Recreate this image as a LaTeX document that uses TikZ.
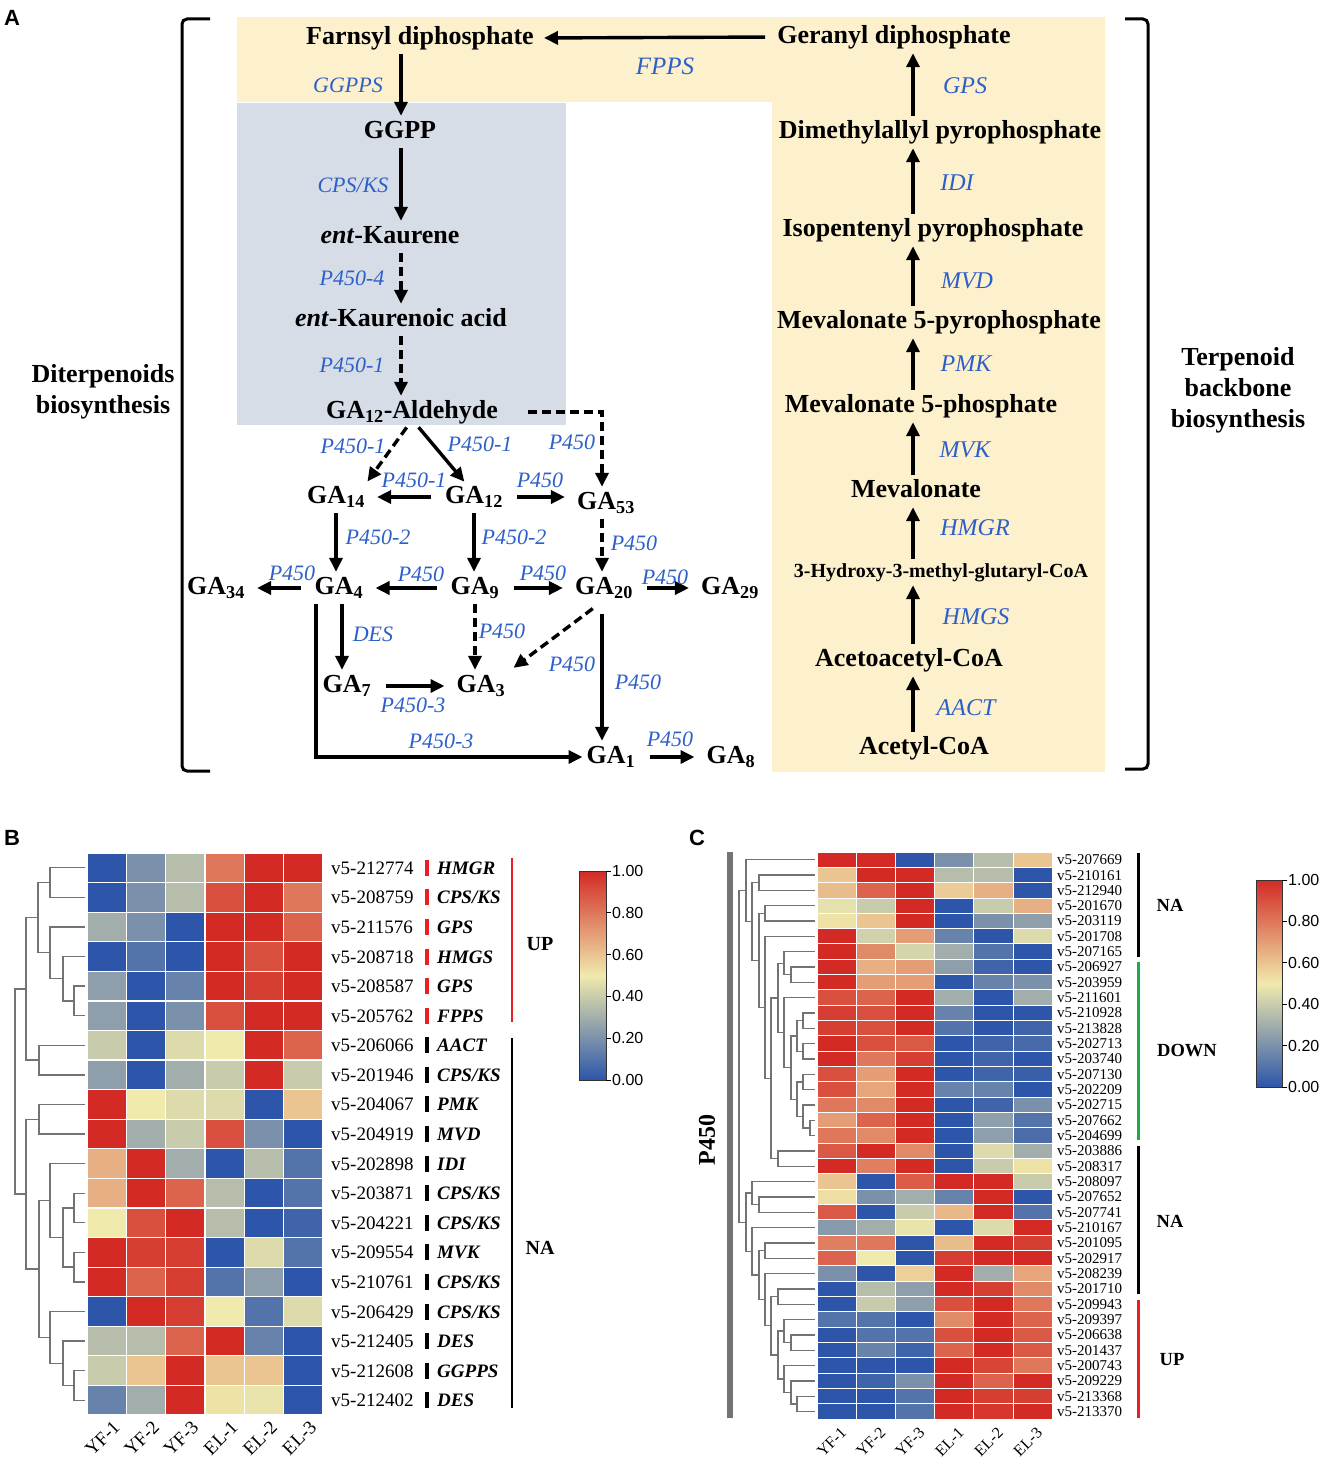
\documentclass[tikz,border=0pt]{standalone}
\usepackage{fontspec}
\setmainfont{Liberation Serif}
\newfontfamily\arialfont{Liberation Sans}
\usetikzlibrary{arrows.meta,positioning,calc}

\definecolor{enzblue}{RGB}{45,95,200}
\definecolor{bandyel}{RGB}{253,241,205}
\definecolor{bandgray}{RGB}{214,221,231}
\definecolor{hmlow}{RGB}{45,85,170}
\definecolor{hmmid}{RGB}{240,234,172}
\definecolor{hmhigh}{RGB}{211,42,38}
\definecolor{upred}{RGB}{235,30,35}
\definecolor{downgreen}{RGB}{30,170,70}

\newcommand\fs[1]{\fontsize{#1}{#1}\selectfont}
% dendrogram joint: name, child a, child b, x of the joint
\newcommand\merge[4]{%
  \path let \p1=($(#2)!0.5!(#3)$), \p2=(#4,0) in coordinate (#1) at (\x2,\y1);
  \draw[dend] (#2) -| (#1) |- (#3);
}
% heat colour hmc from a value 0..10
\newcommand\heat[1]{%
  \pgfmathsetmacro\hmlo{min(#1,5)*20}%
  \pgfmathsetmacro\hmhi{max(#1-5,0)*20}%
  \colorlet{hma}{hmmid!\hmlo!hmlow}%
  \colorlet{hmc}{hmhigh!\hmhi!hma}%
}

\begin{document}
\begin{tikzpicture}[x=1pt, y=-1pt,
    met/.style={font=\fs{26}\bfseries, inner sep=0pt, text height=18.5pt, text depth=5.5pt},
    smet/.style={met, font=\fs{20}\bfseries, text height=14pt, text depth=4pt},
    enz/.style={font=\fs{22}\itshape, text=enzblue, inner sep=0pt},
    renz/.style={enz, font=\fs{24}\itshape},
    arr/.style={-{Triangle[length=14pt,width=13pt]}, line width=3.4pt, shorten <=4pt, shorten >=4pt},
    darr/.style={arr, dash pattern=on 9pt off 5pt},
    hor/.style={shorten <=14pt, shorten >=12pt},
    brk/.style={line width=3pt, rounded corners=5pt},
    ttl/.style={font=\fontsize{26}{31}\selectfont\bfseries, align=center},
    lab/.style={font=\arialfont\bfseries\fs{22}},
    dend/.style={draw=black!55, line width=1.3pt},
    cell/.style={draw=white, line width=1.2pt},
    cbar/.style={font=\arialfont\fs{16}, anchor=west, inner sep=1pt},
    grp/.style={font=\fs{20}\bfseries},
    axl/.style={rotate=45, anchor=east, inner sep=0pt}
]
\useasboundingbox (0,0) rectangle (1325,1464);

% ---------- A: pathway ----------
\fill[bandyel] (237,17) rectangle (1105,102);
\fill[bandyel] (772,17) rectangle (1105,772);
\fill[bandgray] (237,103) rectangle (566,425);

\node[lab] (pA) at (12,18) {A};
\draw[brk] (210,19) -- (182,19) -- (182,771) -- (210,771);
\draw[brk] (1125,19) -- (1148,19) -- (1148,769) -- (1125,769);
\node[ttl] (dit) at (103,392) {Diterpenoids\\biosynthesis};
\node[ttl] (tbb) at (1238,390) {Terpenoid\\backbone\\biosynthesis};

\coordinate (lc) at (401,0);
\coordinate (rc) at (913,0);
\coordinate (gc) at (602,0);

% left chain
\node[met] (fpp) at (420,38) {Farnsyl diphosphate};
\node[met] (ggpp) at (400,132) {GGPP};
\node[met] (kau) at (390,237) {\textit{ent}-Kaurene};
\node[met] (kaa) at (401,320) {\textit{ent}-Kaurenoic acid};
\node[met] (ald) at (412,412) {GA\textsubscript{12}-Aldehyde};
\draw[arr] (fpp.south -| lc) -- (ggpp.north -| lc);
\draw[arr] (ggpp.south -| lc) -- (kau.north -| lc);
\draw[darr] (kau.south -| lc) -- (kaa.north -| lc);
\draw[darr] (kaa.south -| lc) -- (ald.north -| lc);
\node[enz] (e1) at (348,85) {GGPPS};
\node[enz] (e2) at (353,185) {CPS/KS};
\node[enz] (e3) at (352,278) {P450-4};
\node[enz] (e4) at (352,365) {P450-1};

% right chain
\node[met] (gpp) at (894,37) {Geranyl diphosphate};
\node[met] (dma) at (940,132) {Dimethylallyl pyrophosphate};
\node[met] (ipp) at (933,230) {Isopentenyl pyrophosphate};
\node[met] (mpp) at (939,322) {Mevalonate 5-pyrophosphate};
\node[met] (mvp) at (921,406) {Mevalonate 5-phosphate};
\node[met] (mva) at (916,491) {Mevalonate};
\node[smet] (hmg) at (941,572) {3-Hydroxy-3-methyl-glutaryl-CoA};
\node[met] (aca) at (909,660) {Acetoacetyl-CoA};
\node[met] (ac) at (924,748) {Acetyl-CoA};
\foreach \a/\b in {ac/aca, aca/hmg, hmg/mva, mva/mvp, mvp/mpp, mpp/ipp, ipp/dma, dma/gpp}
  \draw[arr] (\a.north -| rc) -- (\b.south -| rc);
\draw[arr, shorten <=12pt, shorten >=10pt] (gpp.west) -- (fpp.east);
\node[enz, font=\fs{25}\itshape] (e5) at (665,66) {FPPS};
\node[renz] (r1) at (965,86) {GPS};
\node[renz] (r2) at (957,183) {IDI};
\node[renz] (r3) at (967,281) {MVD};
\node[renz] (r4) at (966,364) {PMK};
\node[renz] (r5) at (965,450) {MVK};
\node[renz] (r6) at (975,528) {HMGR};
\node[renz] (r7) at (976,617) {HMGS};
\node[renz] (r8) at (966,708) {AACT};

% gibberellins
\node[met] (ga14) at (336,497) {GA\textsubscript{14}};
\node[met] (ga12) at (474,497) {GA\textsubscript{12}};
\node[met] (ga53) at (606,503) {GA\textsubscript{53}};
\node[met] (ga34) at (216,588) {GA\textsubscript{34}};
\node[met] (ga4) at (339,588) {GA\textsubscript{4}};
\node[met] (ga9) at (475,588) {GA\textsubscript{9}};
\node[met] (ga20) at (604,588) {GA\textsubscript{20}};
\node[met] (ga29) at (730,588) {GA\textsubscript{29}};
\node[met] (ga7) at (347,686) {GA\textsubscript{7}};
\node[met] (ga3) at (481,686) {GA\textsubscript{3}};
\node[met] (ga1) at (611,757) {GA\textsubscript{1}};
\node[met] (ga8) at (731,757) {GA\textsubscript{8}};

\coordinate (dl) at (409,0);
\coordinate (dr) at (416,0);
\coordinate (dx) at (342,0);
\coordinate (bx) at (316,0);
\draw[darr] (ald.south -| dl) -- (ga14.north east);
\draw[arr] (ald.south -| dr) -- (ga12.120);
\draw[darr, shorten <=30pt] (ald.east) -| (ga53.north -| gc);
\draw[arr, hor] (ga12.west) -- (ga14.east);
\draw[arr, hor] (ga12.east) -- (ga53.west |- ga12.east);
\draw[arr] (ga14.south) -- (ga14.south |- ga4.north);
\draw[arr] (ga12.south) -- (ga12.south |- ga9.north);
\draw[darr] (ga53.south -| gc) -- (ga20.north -| gc);
\draw[arr, hor] (ga4.west) -- (ga34.east);
\draw[arr, hor] (ga9.west) -- (ga4.east);
\draw[arr, hor] (ga9.east) -- (ga20.west);
\draw[arr, hor] (ga20.east) -- (ga29.west);
\draw[arr] (ga4.south -| dx) -- (ga7.north -| dx);
\draw[darr] (ga9.south) -- (ga9.south |- ga3.north);
\draw[darr, shorten <=14pt, shorten >=10pt] (ga20.south) -- (ga3.north east);
\draw[arr, shorten <=14pt] (ga20.south -| gc) -- (ga1.north -| gc);
\draw[arr, hor] (ga7.east) -- (ga3.west);
\draw[arr] (ga4.south -| bx) |- (ga1.west);
\draw[arr, hor] (ga1.east) -- (ga8.west);

\node[enz] (e6) at (353,446) {P450-1};
\node[enz] (e7) at (480,444) {P450-1};
\node[enz] (e8) at (572,442) {P450};
\node[enz] (e9) at (414,480) {P450-1};
\node[enz] (e10) at (540,480) {P450};
\node[enz] (e11) at (378,537) {P450-2};
\node[enz] (e12) at (514,537) {P450-2};
\node[enz] (e13) at (634,543) {P450};
\node[enz] (e14) at (292,573) {P450};
\node[enz] (e15) at (421,574) {P450};
\node[enz] (e16) at (543,573) {P450};
\node[enz] (e17) at (665,577) {P450};
\node[enz] (e18) at (373,634) {DES};
\node[enz] (e19) at (502,631) {P450};
\node[enz] (e20) at (572,664) {P450};
\node[enz] (e21) at (638,682) {P450};
\node[enz] (e22) at (413,705) {P450-3};
\node[enz] (e23) at (441,741) {P450-3};
\node[enz] (e24) at (670,739) {P450};

% ---------- B: heatmap of backbone genes ----------
\node[lab] (pB) at (12,838) {B};
\foreach \row [count=\i] in {
    {0,2,3.5,8,10,10}, {0,2,3.5,9,10,8}, {3,2,0,10,10,8.5}, {0,1,0,10,9,10},
    {2.5,0,1.5,10,9.5,10}, {2.5,0,2,9,10,10}, {4,0,4.5,5,10,8.5}, {2.5,0,3,4,10,4},
    {10,5,4.5,4.5,0,6}, {10,3,4,9,2,0}, {6.5,10,3,0,3.5,1}, {6.5,10,8.5,3.5,0,1},
    {5,9,10,3.5,0,0.5}, {10,9.5,9.5,0,4.5,1}, {10,8.5,9.5,1,2.5,0}, {0,10,9.5,5,1,4.5},
    {3.5,3.5,8.5,10,1.5,0}, {4,6,10,6,6,0}, {1.5,3,10,5.2,4.8,0}} {
  \foreach \v [count=\j] in \row {
    \heat{\v}
    \path[cell, fill=hmc] ({87+(\j-1)*39.33},{853+(\i-1)*29.58}) rectangle ++(39.33,29.58);
  }
}
\foreach \i in {1,...,19} \coordinate (bl\i) at (85,{853+(\i-0.5)*29.58});
\merge{b12}{bl1}{bl2}{50}
\merge{b56}{bl5}{bl6}{74}
\merge{b46}{bl4}{b56}{63}
\merge{b36}{bl3}{b46}{50}
\merge{b16}{b12}{b36}{38}
\merge{b78}{bl7}{bl8}{39}
\merge{b18}{b16}{b78}{26}
\merge{b910}{bl9}{bl10}{39}
\merge{b1213}{bl12}{bl13}{74}
\merge{b1415}{bl14}{bl15}{74}
\merge{b1215}{b1213}{b1415}{63}
\merge{b1115}{bl11}{b1215}{50}
\merge{b1819}{bl18}{bl19}{74}
\merge{b1719}{bl17}{b1819}{63}
\merge{b1619}{bl16}{b1719}{50}
\merge{b1119}{b1115}{b1619}{39}
\merge{b919}{b910}{b1119}{26}
\merge{broot}{b18}{b919}{15}

\foreach \id/\gn [count=\i] in {212774/HMGR, 208759/{CPS/KS}, 211576/GPS, 208718/HMGS,
    208587/GPS, 205762/FPPS, 206066/AACT, 201946/{CPS/KS}, 204067/PMK, 204919/MVD,
    202898/IDI, 203871/{CPS/KS}, 204221/{CPS/KS}, 209554/MVK, 210761/{CPS/KS},
    206429/{CPS/KS}, 212405/DES, 212608/GGPPS, 212402/DES} {
  \pgfmathsetmacro\yy{853+(\i-0.5)*29.58}
  \ifnum\i<7 \def\tc{upred}\else\def\tc{black}\fi
  \node[anchor=west, font=\fs{19}, inner sep=0pt, text height=13pt, text depth=0pt] (bn\i) at (331,\yy) {v5-\id};
  \fill[\tc] (425,{\yy-8}) rectangle (429,{\yy+8});
  \node[anchor=west, font=\fs{19}\bfseries\itshape, inner sep=0pt, text height=13pt, text depth=0pt] (bg\i) at (437,\yy) {\gn};
}
\draw[upred, line width=2.5pt] (512,858) -- (512,1022);
\draw[line width=2.5pt] (512,1038) -- (512,1408);
\node[grp] (bup) at (540,944) {UP};
\node[grp] (bna) at (540,1248) {NA};

\foreach \lb [count=\j] in {YF-1,YF-2,YF-3,EL-1,EL-2,EL-3}
  \node[axl, font=\fs{19}] (bx\j) at ({87+(\j-0.5)*39.33+10},1424) {\lb};

\shade[bottom color=hmlow, top color=hmmid] (579,1080) rectangle (606,975.5);
\shade[bottom color=hmmid, top color=hmhigh] (579,975.5) rectangle (606,871);
\draw[line width=0.8pt, black!80] (579,871) rectangle (606,1080);
\foreach \tv [count=\k] in {1.00,0.80,0.60,0.40,0.20,0.00} {
  \pgfmathsetmacro\ty{871+(\k-1)*41.8}
  \draw[line width=1pt] (606,\ty) -- (611,\ty);
  \node[cbar] (bt\k) at (611,\ty) {\tv};
}

% ---------- C: heatmap of P450 genes ----------
\node[lab] (pC) at (697,838) {C};
\foreach \row [count=\i] in {
    {10,10,0,2,3.5,6}, {6,10,10,3.5,3.5,0}, {6.2,8.5,10,5.8,6.5,0}, {4.7,4,10,0,4,6.5},
    {5.2,6,10,0,2,2.5}, {10,4.2,7,1.5,0,4.5}, {10,7.5,4.3,3,1,0}, {10,6.5,7,2.5,0.5,0},
    {10,7,7,0,1.5,2}, {9,8.5,10,3,0,3}, {9.5,9,10,1.5,0,0}, {9.5,9,10,1,0,0.5},
    {10,9,8.8,0,0.5,0.7}, {10,8,9.5,0,0.5,0}, {9,7,10,0,0.5,0.3}, {9,6.8,10,1.5,1.5,0},
    {8,7.5,10,0,0.5,2}, {7,8.5,10,0,2.5,1}, {8,7.5,10,0,2.5,0.8}, {8.8,10,7.5,0,4.5,3},
    {10,7.8,10,0,4,5.2}, {6,0,8.7,10,10,4}, {5.3,2,3,1.5,10,0}, {8.8,0,4,6.3,10,1},
    {2.3,3,4.8,0,4.5,10}, {7.8,8,0,6.2,10,9.5}, {8.5,5,0,9.5,10,10}, {2,0,5.7,10,3,6.8},
    {0,3.5,2.5,10,9.5,7.5}, {0,4,2.5,9,10,8}, {1,1,0,7.5,10,8.5}, {0,1,1,9,10,8.8},
    {0,1.5,0.5,8.5,10,8.8}, {0,0,0,10,9.3,8}, {0,0.5,2,10,8.5,10}, {0,0,1,10,9.5,9.5},
    {0,0,1,10,9.7,10}} {
  \foreach \v [count=\j] in \row {
    \heat{\v}
    \path[cell, line width=1pt, fill=hmc] ({817+(\j-1)*39.2},{852+(\i-1)*15.33}) rectangle ++(39.2,15.33);
  }
}
\foreach \i in {1,...,37} \coordinate (cl\i) at (815,{852+(\i-0.5)*15.33});
\merge{c23}{cl2}{cl3}{759}
\merge{c45}{cl4}{cl5}{765}
\merge{c89}{cl8}{cl9}{791}
\merge{c79}{cl7}{c89}{784}
\merge{c1112}{cl11}{cl12}{803}
\merge{c1314}{cl13}{cl14}{803}
\merge{c1114}{c1112}{c1314}{797}
\merge{c1516}{cl15}{cl16}{803}
\merge{c1819}{cl18}{cl19}{810}
\merge{c1719}{cl17}{c1819}{803}
\merge{c1519}{c1516}{c1719}{797}
\merge{c1119}{c1114}{c1519}{791}
\merge{c1019}{cl10}{c1119}{784}
\merge{c719}{c79}{c1019}{778}
\merge{c2021}{cl20}{cl21}{778}
\merge{c721}{c719}{c2021}{771}
\merge{c621}{cl6}{c721}{765}
\merge{c421}{c45}{c621}{759}
\merge{c221}{c23}{c421}{752}
\merge{c121}{cl1}{c221}{746}
\merge{c2324}{cl23}{cl24}{759}
\merge{c2224}{cl22}{c2324}{752}
\merge{c2627}{cl26}{cl27}{765}
\merge{c2930}{cl29}{cl30}{778}
\merge{c3233}{cl32}{cl33}{791}
\merge{c3133}{cl31}{c3233}{784}
\merge{c3637}{cl36}{cl37}{797}
\merge{c3537}{cl35}{c3637}{791}
\merge{c3437}{cl34}{c3537}{784}
\merge{c3137}{c3133}{c3437}{778}
\merge{c2937}{c2930}{c3137}{771}
\merge{c2837}{cl28}{c2937}{765}
\merge{c2637}{c2627}{c2837}{759}
\merge{c2537}{cl25}{c2637}{752}
\merge{c2237}{c2224}{c2537}{746}
\merge{croot}{c121}{c2237}{739}

\fill[black!55] (727,852) rectangle (733,1418);
\node[rotate=90, font=\fs{24}\bfseries] (p450) at (707,1140) {P450};

\foreach \id [count=\i] in {207669,210161,212940,201670,203119,201708,207165,206927,203959,
    211601,210928,213828,202713,203740,207130,202209,202715,207662,204699,203886,208317,
    208097,207652,207741,210167,201095,202917,208239,201710,209943,209397,206638,201437,
    200743,209229,213368,213370}
  \node[anchor=west, font=\fs{15}, inner sep=0pt, text height=10pt, text depth=0pt] (cn\i) at (1057,{852+(\i-0.5)*15.33}) {v5-\id};

\draw[line width=3pt] (1138,853) -- (1138,957);
\draw[downgreen, line width=3pt] (1138,962) -- (1138,1140);
\draw[line width=3pt] (1138,1146) -- (1138,1294);
\draw[upred, line width=3pt] (1138,1300) -- (1138,1418);
\node[grp, font=\fs{18.5}\bfseries] (cna1) at (1170,905) {NA};
\node[grp, font=\fs{18.5}\bfseries] (cdown) at (1187,1051) {DOWN};
\node[grp, font=\fs{18.5}\bfseries] (cna2) at (1170,1221) {NA};
\node[grp, font=\fs{18.5}\bfseries] (cup) at (1172,1360) {UP};

\foreach \lb [count=\j] in {YF-1,YF-2,YF-3,EL-1,EL-2,EL-3}
  \node[axl, font=\fs{16}] (cx\j) at ({817+(\j-0.5)*39.2+7},1430) {\lb};

\shade[bottom color=hmlow, top color=hmmid] (1256,1087) rectangle (1282,983.5);
\shade[bottom color=hmmid, top color=hmhigh] (1256,983.5) rectangle (1282,880);
\draw[line width=0.8pt, black!80] (1256,880) rectangle (1282,1087);
\foreach \tv [count=\k] in {1.00,0.80,0.60,0.40,0.20,0.00} {
  \pgfmathsetmacro\ty{880+(\k-1)*41.4}
  \draw[line width=1pt] (1282,\ty) -- (1287,\ty);
  \node[cbar] (ct\k) at (1287,\ty) {\tv};
}
\end{tikzpicture}
\end{document}
